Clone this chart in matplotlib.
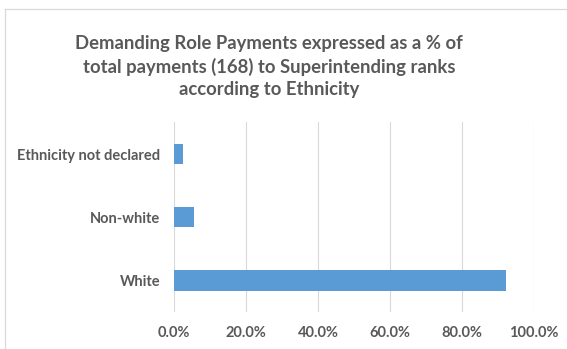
import matplotlib
matplotlib.use("Agg")
import matplotlib.pyplot as plt
from matplotlib.lines import Line2D
from matplotlib.ticker import FuncFormatter, MultipleLocator

categories = ["White", "Non-white", "Ethnicity not declared"]
values = [92.3, 5.4, 2.4]
title = "Demanding Role Payments expressed as a % of\ntotal payments (168) to Superintending ranks\naccording to Ethnicity"

plt.rcParams['font.family'] = ['Lato', 'DejaVu Sans']

fig = plt.figure(figsize=(5.67, 3.49), dpi=100)
ax = fig.add_axes([0.307, 0.107, 0.635, 0.542])

ax.barh(range(len(categories)), values, height=0.33, color="#5b9bd5", zorder=3)
ax.set_yticks(range(len(categories)))
ax.set_yticklabels(categories)
ax.set_ylim(-0.5, len(categories) - 0.5)
ax.set_xlim(0, 100)
ax.xaxis.set_major_locator(MultipleLocator(20))
ax.xaxis.set_major_formatter(FuncFormatter(lambda v, p: f"{v:.1f}%"))
ax.grid(axis="x", color="#d9d9d9", linewidth=0.8, zorder=0)
for s in ax.spines.values():
    s.set_visible(False)
ax.tick_params(axis="both", length=0, labelsize=10.5, labelcolor="#595959")
ax.tick_params(axis="x", pad=10)
ax.tick_params(axis="y", pad=10)
for lab in ax.get_xticklabels() + ax.get_yticklabels():
    lab.set_fontweight("bold")

fig.text(0.474, 0.81, title, ha="center", va="center", fontsize=13.3,
         color="#595959", linespacing=1.38, fontweight="bold")

fig.add_artist(Line2D([5/567, 5/567], [0, 1 - 9/349], color="#d9d9d9", linewidth=0.9))
fig.add_artist(Line2D([5/567, 1], [1 - 9/349, 1 - 9/349], color="#d9d9d9", linewidth=0.9))

fig.savefig("out.png", dpi=100)
